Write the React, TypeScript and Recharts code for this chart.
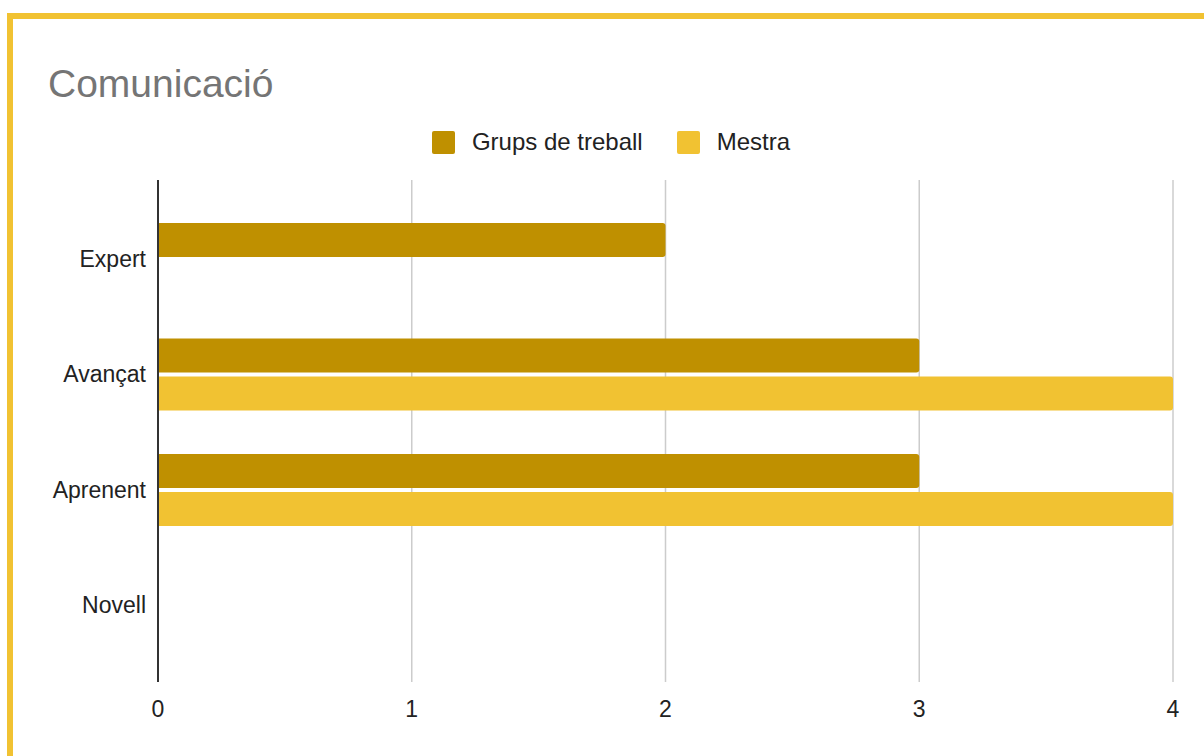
import React from 'react';
import { BarChart, Bar, XAxis, YAxis, CartesianGrid, Legend } from 'recharts';

const levels = ['Expert', 'Avançat', 'Aprenent', 'Novell'];
const grupsValues = [2, 3, 3, null];
const mestraValues = [null, 4, 4, null];
const xTicks = [0, 1, 2, 3, 4];

const data = levels.map((level, i) => ({
  level,
  grups: grupsValues[i],
  mestra: mestraValues[i],
}));

const FONT = '"Liberation Sans", Arial, sans-serif';
const DARK_YELLOW = '#bf9000';
const YELLOW = '#f1c232';

const legendItems = [
  { label: 'Grups de treball', color: DARK_YELLOW },
  { label: 'Mestra', color: YELLOW },
];

const LegendContent = () => (
  <div
    style={{
      height: 38,
      display: 'flex',
      justifyContent: 'center',
      alignItems: 'center',
      paddingLeft: 5,
      fontFamily: FONT,
      fontSize: 24,
      color: '#222',
    }}
  >
    {legendItems.map((item, i) => (
      <div key={item.label} style={{ display: 'flex', alignItems: 'center', marginLeft: i ? 34 : 0 }}>
        <span style={{ width: 23, height: 23, background: item.color, borderRadius: 2, marginRight: 17 }} />
        <span>{item.label}</span>
      </div>
    ))}
  </div>
);

const YTick = ({ x, y, payload }: any) => (
  <text x={x - 4} y={y} textAnchor="end" dominantBaseline="central" fill="#222" fontSize={23} fontFamily={FONT}>
    {payload.value}
  </text>
);

const XTick = ({ x, y, payload }: any) => (
  <text x={x} y={y + 19} textAnchor="middle" dominantBaseline="central" fill="#222" fontSize={23} fontFamily={FONT}>
    {payload.value}
  </text>
);

export default function App() {
  return (
    <div
      style={{
        position: 'fixed',
        left: 7,
        top: 13,
        width: 1197,
        height: 743,
        borderTop: `6px solid ${YELLOW}`,
        borderLeft: `6px solid ${YELLOW}`,
        background: '#fff',
        overflow: 'hidden',
      }}
    >
      <div
        style={{
          position: 'absolute',
          left: 35,
          top: 40,
          fontFamily: FONT,
          fontSize: 39,
          color: '#757575',
          lineHeight: '50px',
        }}
      >
        Comunicació
      </div>
      <BarChart
        width={1191}
        height={737}
        data={data}
        layout="vertical"
        margin={{ top: 123, right: 31, bottom: 44, left: 0 }}
        barSize={34}
        barGap={4}
      >
        <CartesianGrid horizontal={false} stroke="#cccccc" strokeWidth={1.5} />
        <XAxis
          type="number"
          domain={[0, 4]}
          ticks={xTicks}
          axisLine={false}
          tickLine={false}
          height={30}
          tick={<XTick />}
        />
        <YAxis
          type="category"
          dataKey="level"
          width={145}
          padding={{ top: 21, bottom: 19 }}
          axisLine={{ stroke: '#333', strokeWidth: 2 }}
          tickLine={false}
          tick={<YTick />}
        />
        <Legend verticalAlign="top" content={<LegendContent />} wrapperStyle={{ top: 104, left: 0, width: 1191 }} />
        <Bar dataKey="grups" name="Grups de treball" fill={DARK_YELLOW} radius={[0, 3, 3, 0]} isAnimationActive={false} />
        <Bar dataKey="mestra" name="Mestra" fill={YELLOW} radius={[0, 3, 3, 0]} isAnimationActive={false} />
      </BarChart>
    </div>
  );
}
